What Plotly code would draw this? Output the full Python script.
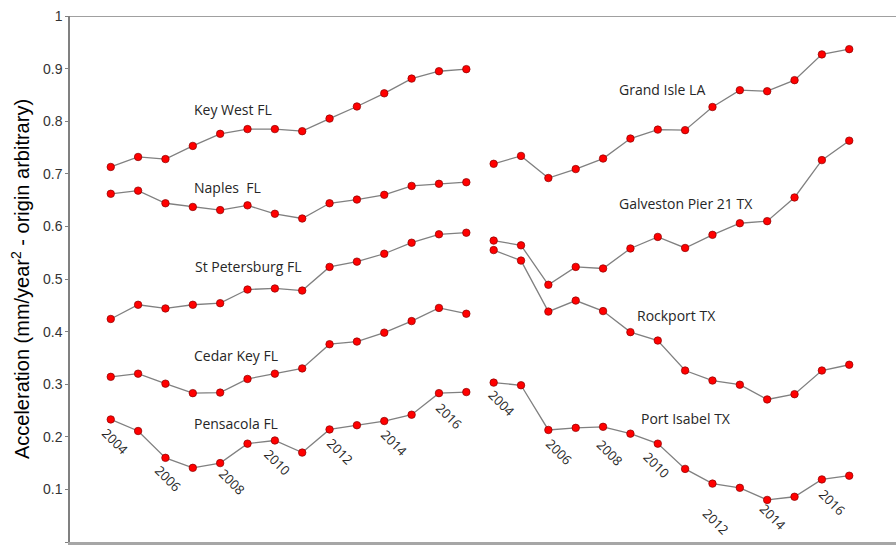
import plotly.graph_objects as go

years = list(range(2004, 2018))

key_west = [0.713, 0.732, 0.728, 0.753, 0.776, 0.785, 0.785, 0.781, 0.805, 0.828, 0.853, 0.881, 0.895, 0.899]
naples = [0.662, 0.668, 0.644, 0.637, 0.631, 0.640, 0.624, 0.615, 0.644, 0.651, 0.660, 0.677, 0.681, 0.684]
st_petersburg = [0.424, 0.451, 0.444, 0.451, 0.454, 0.480, 0.482, 0.478, 0.523, 0.533, 0.548, 0.569, 0.585, 0.588]
cedar_key = [0.314, 0.320, 0.301, 0.283, 0.284, 0.310, 0.320, 0.330, 0.376, 0.381, 0.398, 0.420, 0.445, 0.434]
pensacola = [0.233, 0.211, 0.160, 0.141, 0.150, 0.187, 0.193, 0.170, 0.214, 0.222, 0.230, 0.242, 0.283, 0.285]

grand_isle = [0.719, 0.734, 0.692, 0.709, 0.729, 0.767, 0.784, 0.783, 0.827, 0.859, 0.857, 0.878, 0.927, 0.937]
galveston = [0.573, 0.564, 0.489, 0.523, 0.520, 0.558, 0.580, 0.559, 0.584, 0.606, 0.610, 0.655, 0.726, 0.763]
rockport = [0.555, 0.535, 0.438, 0.459, 0.439, 0.399, 0.383, 0.326, 0.307, 0.299, 0.271, 0.281, 0.326, 0.337]
port_isabel = [0.303, 0.298, 0.213, 0.217, 0.219, 0.206, 0.187, 0.139, 0.111, 0.103, 0.080, 0.086, 0.119, 0.126]

y_tick_vals = [0, 0.1, 0.2, 0.3, 0.4, 0.5, 0.6, 0.7, 0.8, 0.9, 1]
y_tick_text = ["0", "0.1", "0.2", "0.3", "0.4", "0.5", "0.6", "0.7", "0.8", "0.9", "1"]

left_series = [key_west, naples, st_petersburg, cedar_key, pensacola]
right_series = [grand_isle, galveston, rockport, port_isabel]

left_names = ["Key West FL", "Naples\u00a0 FL", "St Petersburg FL", "Cedar Key FL", "Pensacola FL"]
right_names = ["Grand Isle LA", "Galveston Pier 21 TX", "Rockport TX", "Port Isabel TX"]
# label positions (x index, y value)
left_label_pos = [(2.96, 0.823), (2.96, 0.674), (3.0, 0.523), (2.96, 0.354), (2.96, 0.226)]
right_label_pos = [(18.5, 0.861), (18.5, 0.644), (19.17, 0.430), (19.33, 0.234)]

year_label_years = [2004, 2006, 2008, 2010, 2012, 2014, 2016]
left_year_shift = [(4, 22), (3, 21), (12, 19), (2, 22), (10, 22), (10, 22), (10, 23)]
right_year_shift = [(8, 20), (11, 22), (7, 26), (-1, 21), (4, 38), (6, 17), (10, 23)]

RIGHT_OFFSET = 14

fig = go.Figure()

marker = dict(color="#ff0000", size=7.5, line=dict(color="#8a0000", width=0.7))
line = dict(color="#808080", width=1.3)

def xs(offset):
    return [y - 2004 + offset for y in years]

for s in left_series:
    fig.add_trace(go.Scatter(x=xs(0), y=s, mode="lines+markers", marker=marker, line=line,
                             showlegend=False, hoverinfo="skip"))
for s in right_series:
    fig.add_trace(go.Scatter(x=xs(RIGHT_OFFSET), y=s, mode="lines+markers", marker=marker, line=line,
                             showlegend=False, hoverinfo="skip"))

label_font = dict(family="Open Sans", size=14, color="#262626")
annotations = []
for name, (lx, ly) in zip(left_names + right_names, left_label_pos + right_label_pos):
    annotations.append(dict(x=lx, y=ly, xref="x", yref="y", text=name, showarrow=False,
                            xanchor="left", yanchor="middle", font=label_font))

year_font = dict(family="Open Sans", size=13, color="#262626")
for series, offset, shifts in [(pensacola, 0, left_year_shift), (port_isabel, RIGHT_OFFSET, right_year_shift)]:
    for yr, (dx, dy) in zip(year_label_years, shifts):
        i = years.index(yr)
        annotations.append(dict(x=i + offset, y=series[i], xref="x", yref="y", text=str(yr),
                                showarrow=False, textangle=45, xanchor="center", yanchor="middle",
                                xshift=dx, yshift=-dy, font=year_font))

fig.update_layout(
    width=896, height=547,
    margin=dict(l=70, r=0, t=16, b=5),
    paper_bgcolor="white", plot_bgcolor="white",
    annotations=annotations,
    shapes=[dict(type="line", xref="paper", yref="y", x0=0, x1=1, y0=1, y1=1,
                 line=dict(color="#808080", width=1.5))],
)
fig.update_xaxes(range=[-1.49, 28.71], showgrid=False, zeroline=False, showticklabels=False,
                 ticks="", showline=True, linecolor="#a6a6a6", linewidth=3, automargin=False)
fig.update_yaxes(range=[0, 1], tickvals=y_tick_vals, ticktext=y_tick_text, showgrid=False, zeroline=False,
                 showline=True, linecolor="#808080", linewidth=1.5, ticks="outside", ticklen=3,
                 tickcolor="#808080", automargin=False,
                 tickfont=dict(family="Liberation Sans", size=14, color="#333333"),
                 title=dict(text="Acceleration (mm/year<sup>2</sup> - origin arbitrary)",
                            font=dict(family="Liberation Sans", size=20, color="#000000"), standoff=8))

fig.write_html("out.html")
